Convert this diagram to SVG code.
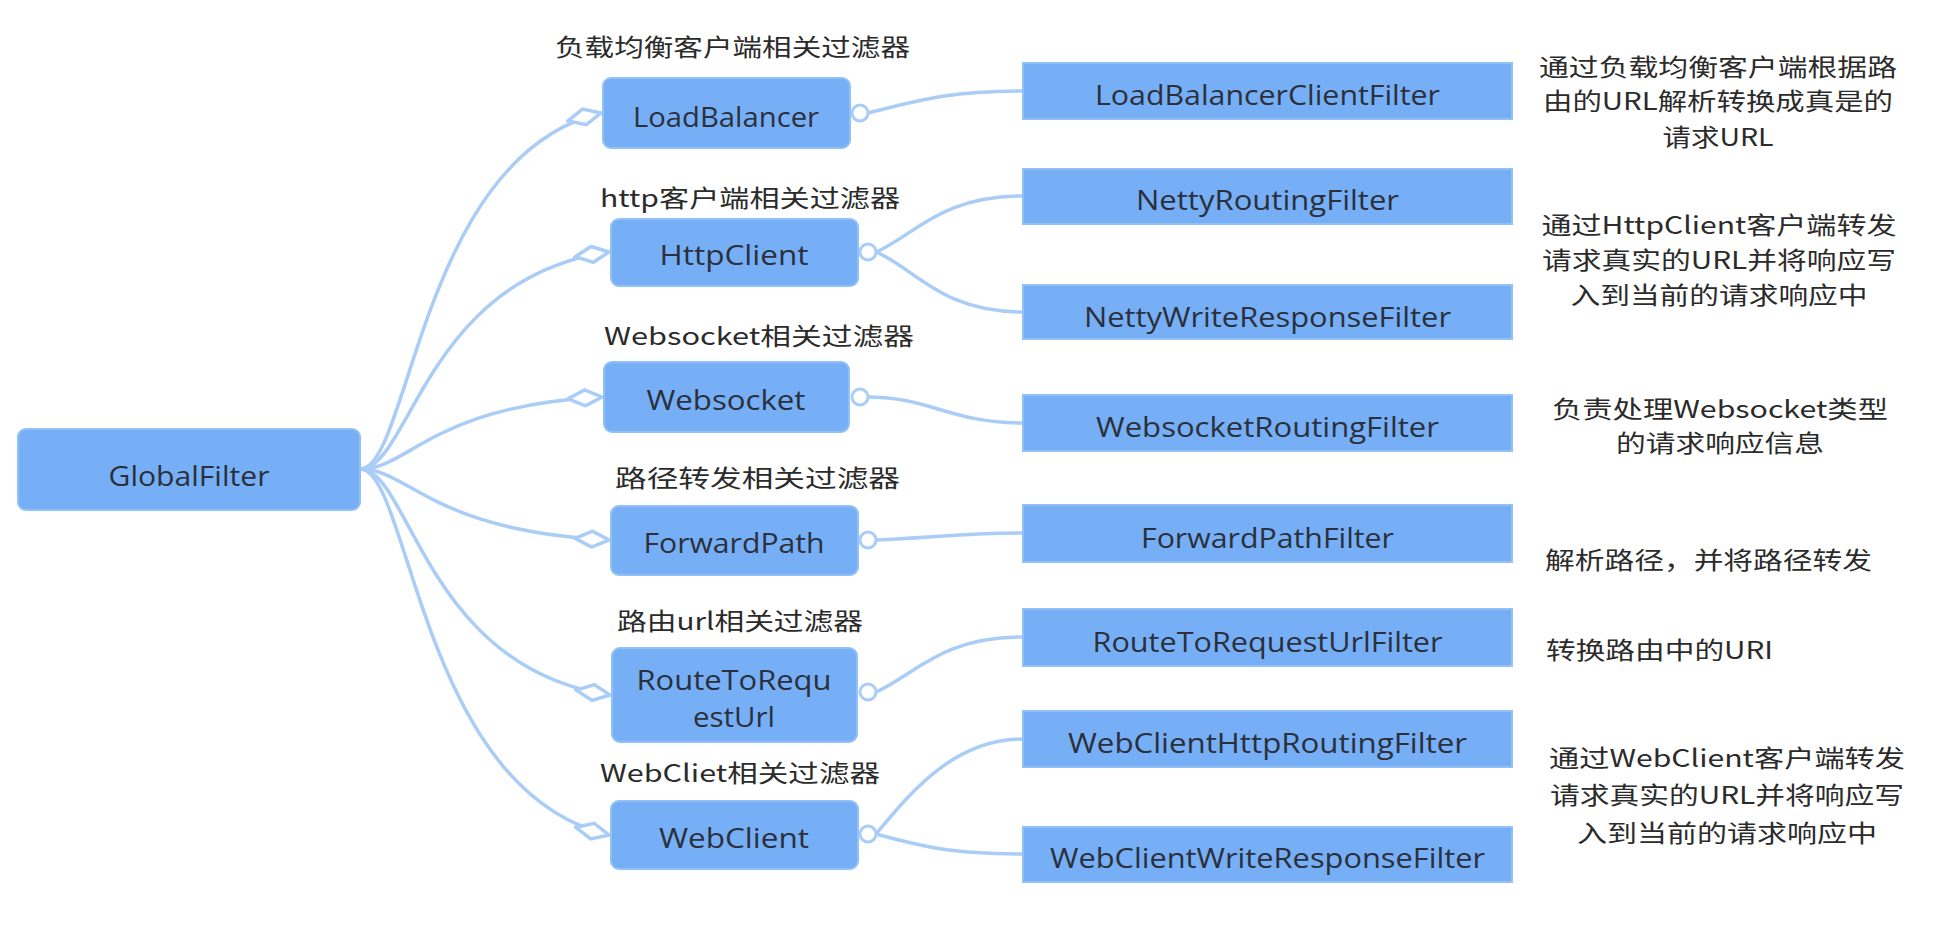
<svg xmlns="http://www.w3.org/2000/svg" width="1960" height="928" viewBox="0 0 1960 928">
<style>
.node{fill:#76aff5;stroke:#92c1f8;stroke-width:2}
.t{font-family:"Open Sans","Noto Sans",sans-serif;font-size:28px;fill:#2b303c;text-anchor:middle}
.lbl{font-family:"Noto Sans CJK SC","Noto Sans",sans-serif;font-size:24px;fill:#2b2b2b}
.desc{font-family:"Noto Sans CJK SC","Noto Sans",sans-serif;font-size:24px;fill:#2b2b2b;text-anchor:middle}
.c{fill:none;stroke:#a9cdf6;stroke-width:3.5}
.dot{fill:#fff;stroke:#a9cdf6;stroke-width:3}
</style>
<defs>
<marker id="dia" viewBox="0 -10 38 20" refX="36" refY="0" markerWidth="38" markerHeight="20" markerUnits="userSpaceOnUse" orient="auto">
<polygon points="2,0 19,-8 36,0 19,8" fill="#fff" stroke="#a9cdf6" stroke-width="3.5"/>
</marker>
</defs>
<rect width="1960" height="928" fill="#fff"/>

<g id="connectors">
<path class="c" d="M360 469 C410 469 420 156 601 113" marker-end="url(#dia)"/>
<path class="c" d="M360 469 C410 469 425 278 609 252" marker-end="url(#dia)"/>
<path class="c" d="M360 469 C410 469 430 406 602 397" marker-end="url(#dia)"/>
<path class="c" d="M360 469 C410 469 430 531 609 540" marker-end="url(#dia)"/>
<path class="c" d="M360 469 C410 469 425 668 610 695" marker-end="url(#dia)"/>
<path class="c" d="M360 469 C410 469 420 791 609 835" marker-end="url(#dia)"/>

<path class="c" d="M868 113 C920 100 950 91 1023 91"/>
<path class="c" d="M876 252 C915 235 940 196 1023 196"/>
<path class="c" d="M876 252 C915 268 940 312 1023 312"/>
<path class="c" d="M868 397 C930 397 950 423 1023 423"/>
<path class="c" d="M876 540 C930 538 960 533 1023 533"/>
<path class="c" d="M876 692 C915 675 940 637 1023 637"/>
<path class="c" d="M876 834 C905 800 950 739 1023 739"/>
<path class="c" d="M876 834 C920 846 950 854 1023 854"/>

<circle class="dot" cx="860" cy="113" r="8"/>
<circle class="dot" cx="868" cy="252" r="8"/>
<circle class="dot" cx="860" cy="397" r="8"/>
<circle class="dot" cx="868" cy="540" r="8"/>
<circle class="dot" cx="868" cy="692" r="8"/>
<circle class="dot" cx="868" cy="834" r="8"/>
</g>

<g id="GlobalFilter">
<rect class="node" x="18" y="429" width="342" height="81" rx="8"/>
<text class="t" x="189" y="486" textLength="161" lengthAdjust="spacingAndGlyphs">GlobalFilter</text>
</g>

<g id="LoadBalancer">
<text class="lbl" x="555" y="56" textLength="355" lengthAdjust="spacingAndGlyphs">负载均衡客户端相关过滤器</text>
<rect class="node" x="603" y="78" width="247" height="70" rx="8"/>
<text class="t" x="726" y="127" textLength="186" lengthAdjust="spacingAndGlyphs">LoadBalancer</text>
</g>

<g id="HttpClient">
<text class="lbl" x="600" y="207" textLength="300" lengthAdjust="spacingAndGlyphs">http客户端相关过滤器</text>
<rect class="node" x="611" y="219" width="247" height="67" rx="8"/>
<text class="t" x="734" y="265" textLength="149" lengthAdjust="spacingAndGlyphs">HttpClient</text>
</g>

<g id="Websocket">
<text class="lbl" x="604" y="345" textLength="310" lengthAdjust="spacingAndGlyphs">Websocket相关过滤器</text>
<rect class="node" x="604" y="362" width="245" height="70" rx="8"/>
<text class="t" x="726" y="410" textLength="159" lengthAdjust="spacingAndGlyphs">Websocket</text>
</g>

<g id="ForwardPath">
<text class="lbl" x="615" y="487" textLength="285" lengthAdjust="spacingAndGlyphs">路径转发相关过滤器</text>
<rect class="node" x="611" y="506" width="247" height="69" rx="8"/>
<text class="t" x="734" y="553" textLength="181" lengthAdjust="spacingAndGlyphs">ForwardPath</text>
</g>

<g id="RouteToRequestUrl">
<text class="lbl" x="617" y="630" textLength="246" lengthAdjust="spacingAndGlyphs">路由url相关过滤器</text>
<rect class="node" x="612" y="648" width="245" height="94" rx="8"/>
<text class="t" x="734" y="690" textLength="195" lengthAdjust="spacingAndGlyphs">RouteToRequ</text>
<text class="t" x="734" y="727" textLength="82" lengthAdjust="spacingAndGlyphs">estUrl</text>
</g>

<g id="WebClient">
<text class="lbl" x="600" y="782" textLength="280" lengthAdjust="spacingAndGlyphs">WebCliet相关过滤器</text>
<rect class="node" x="611" y="801" width="247" height="68" rx="8"/>
<text class="t" x="734" y="848" textLength="150" lengthAdjust="spacingAndGlyphs">WebClient</text>
</g>

<g id="LoadBalancerClientFilter">
<rect class="node" x="1023" y="63" width="489" height="56"/>
<text class="t" x="1267.5" y="105" textLength="345" lengthAdjust="spacingAndGlyphs">LoadBalancerClientFilter</text>
</g>
<g id="NettyRoutingFilter">
<rect class="node" x="1023" y="169" width="489" height="55"/>
<text class="t" x="1267.5" y="210" textLength="263" lengthAdjust="spacingAndGlyphs">NettyRoutingFilter</text>
</g>
<g id="NettyWriteResponseFilter">
<rect class="node" x="1023" y="285" width="489" height="54"/>
<text class="t" x="1267.5" y="327" textLength="367" lengthAdjust="spacingAndGlyphs">NettyWriteResponseFilter</text>
</g>
<g id="WebsocketRoutingFilter">
<rect class="node" x="1023" y="395" width="489" height="56"/>
<text class="t" x="1267.5" y="437" textLength="343" lengthAdjust="spacingAndGlyphs">WebsocketRoutingFilter</text>
</g>
<g id="ForwardPathFilter">
<rect class="node" x="1023" y="505" width="489" height="57"/>
<text class="t" x="1267.5" y="548" textLength="253" lengthAdjust="spacingAndGlyphs">ForwardPathFilter</text>
</g>
<g id="RouteToRequestUrlFilter">
<rect class="node" x="1023" y="609" width="489" height="57"/>
<text class="t" x="1267.5" y="652" textLength="350" lengthAdjust="spacingAndGlyphs">RouteToRequestUrlFilter</text>
</g>
<g id="WebClientHttpRoutingFilter">
<rect class="node" x="1023" y="711" width="489" height="56"/>
<text class="t" x="1267.5" y="753" textLength="399" lengthAdjust="spacingAndGlyphs">WebClientHttpRoutingFilter</text>
</g>
<g id="WebClientWriteResponseFilter">
<rect class="node" x="1023" y="827" width="489" height="55"/>
<text class="t" x="1267.5" y="868" textLength="435" lengthAdjust="spacingAndGlyphs">WebClientWriteResponseFilter</text>
</g>

<g id="descriptions">
<text class="desc" x="1718" y="76" textLength="358" lengthAdjust="spacingAndGlyphs">通过负载均衡客户端根据路</text>
<text class="desc" x="1718" y="110" textLength="350" lengthAdjust="spacingAndGlyphs">由的URL解析转换成真是的</text>
<text class="desc" x="1718" y="146" textLength="111" lengthAdjust="spacingAndGlyphs">请求URL</text>

<text class="desc" x="1719" y="234" textLength="355" lengthAdjust="spacingAndGlyphs">通过HttpClient客户端转发</text>
<text class="desc" x="1719" y="269" textLength="354" lengthAdjust="spacingAndGlyphs">请求真实的URL并将响应写</text>
<text class="desc" x="1719" y="304" textLength="297" lengthAdjust="spacingAndGlyphs">入到当前的请求响应中</text>

<text class="desc" x="1720" y="418" textLength="336" lengthAdjust="spacingAndGlyphs">负责处理Websocket类型</text>
<text class="desc" x="1720" y="452" textLength="208" lengthAdjust="spacingAndGlyphs">的请求响应信息</text>

<text class="lbl" x="1545" y="569" textLength="327" lengthAdjust="spacingAndGlyphs">解析路径，并将路径转发</text>
<text class="lbl" x="1546" y="659" textLength="227" lengthAdjust="spacingAndGlyphs">转换路由中的URI</text>

<text class="desc" x="1727" y="767" textLength="356" lengthAdjust="spacingAndGlyphs">通过WebClient客户端转发</text>
<text class="desc" x="1727" y="804" textLength="354" lengthAdjust="spacingAndGlyphs">请求真实的URL并将响应写</text>
<text class="desc" x="1727" y="842" textLength="300" lengthAdjust="spacingAndGlyphs">入到当前的请求响应中</text>
</g>
</svg>
